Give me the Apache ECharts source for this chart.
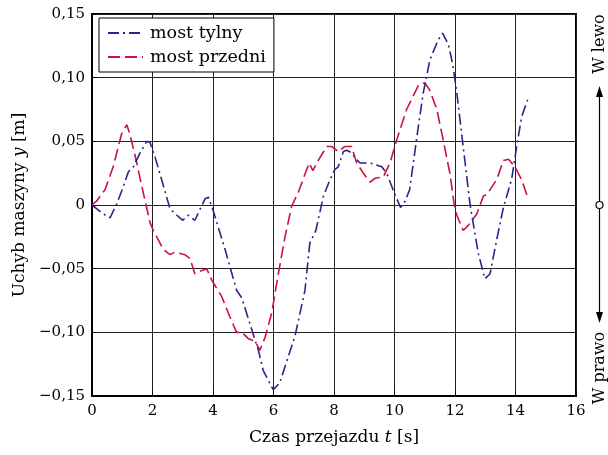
<!DOCTYPE html>
<html>
<head>
<meta charset="utf-8">
<script src="https://cdn.jsdelivr.net/npm/echarts@6/dist/echarts.min.js"></script>
<style>
html, body { margin: 0; padding: 0; background: #fff; }
#chart { width: 608px; height: 455px; }
</style>
</head>
<body>
<div id="chart"></div>
<script>
// czas [s], uchyb [m]
var tylny = [
	[0, 0], [0.37, -0.007], [0.6, -0.01], [0.82, 0.001], [1.03, 0.014], [1.2, 0.026],
	[1.37, 0.030], [1.59, 0.041], [1.81, 0.050], [1.92, 0.049], [2.08, 0.038], [2.3, 0.020],
	[2.58, -0.003], [2.85, -0.009], [3.0, -0.012], [3.18, -0.008], [3.4, -0.012], [3.74, 0.005],
	[3.85, 0.006], [4.0, -0.004], [4.4, -0.035], [4.78, -0.067], [4.95, -0.073], [5.39, -0.106],
	[5.5, -0.114], [5.66, -0.130], [5.99, -0.145], [6.2, -0.140], [6.71, -0.103], [7.04, -0.067],
	[7.2, -0.030], [7.4, -0.020], [7.65, 0.007], [7.87, 0.020], [8.03, 0.028], [8.14, 0.030],
	[8.31, 0.042], [8.42, 0.043], [8.58, 0.041], [8.73, 0.036], [8.86, 0.033], [9.19, 0.033],
	[9.58, 0.030], [9.74, 0.025], [10.02, 0.008], [10.2, -0.002], [10.35, 0.003], [10.5, 0.012],
	[10.79, 0.062], [10.95, 0.088], [11.17, 0.114], [11.45, 0.130], [11.59, 0.135], [11.78, 0.126],
	[11.92, 0.111], [12.06, 0.088], [12.27, 0.046], [12.5, 0.000], [12.77, -0.038], [12.99, -0.058],
	[13.16, -0.054], [13.38, -0.027], [13.6, -0.002], [13.87, 0.020], [14.04, 0.046], [14.2, 0.069],
	[14.42, 0.084]
]
var przedni = [
	[0, 0], [0.15, 0.003], [0.43, 0.012], [0.7, 0.030], [0.98, 0.056], [1.15, 0.063],
	[1.26, 0.055], [1.48, 0.033], [1.7, 0.009], [1.92, -0.014], [2.03, -0.020], [2.36, -0.035],
	[2.58, -0.039], [2.74, -0.037], [3.07, -0.039], [3.24, -0.042], [3.4, -0.054], [3.57, -0.052],
	[3.79, -0.050], [3.96, -0.059], [4.29, -0.072], [4.56, -0.088], [4.78, -0.100], [4.95, -0.100],
	[5.17, -0.105], [5.39, -0.107], [5.55, -0.114], [5.72, -0.104], [5.94, -0.085], [6.16, -0.054],
	[6.38, -0.025], [6.6, -0.001], [6.82, 0.010], [7.1, 0.028], [7.18, 0.033], [7.3, 0.027],
	[7.48, 0.035], [7.76, 0.046], [7.92, 0.046], [8.14, 0.042], [8.36, 0.046], [8.58, 0.046],
	[8.75, 0.033], [8.97, 0.025], [9.19, 0.018], [9.36, 0.021], [9.63, 0.022], [9.85, 0.033],
	[10.07, 0.051], [10.4, 0.075], [10.79, 0.094], [11.0, 0.096], [11.17, 0.090], [11.4, 0.075],
	[11.61, 0.051], [11.83, 0.025], [11.97, 0.001], [12.06, -0.008], [12.27, -0.020], [12.44, -0.016],
	[12.72, -0.007], [12.94, 0.007], [13.05, 0.008], [13.38, 0.020], [13.6, 0.035], [13.77, 0.036],
	[13.98, 0.030], [14.2, 0.020], [14.42, 0.005]
]
var seriesNames = ["most tylny", "most przedni"]

var FONT = "DejaVu Serif"
var chart = echarts.init(document.getElementById("chart"))

function fmtY(v){ // 0,05 / −0,05
	if(Math.abs(v) < 1e-9) return "0"
	return (v < 0 ? "\u2212" : "") + Math.abs(v).toFixed(2).replace(".", ",")
}

var option = {
	animation: false,
	textStyle: { fontFamily: FONT },
	grid: {
		left: 92, right: 32, top: 14, bottom: 59,
		show: true, borderColor: "#000", borderWidth: 2, backgroundColor: "transparent"
	},
	legend: {
		orient: "vertical",
		left: 99, top: 18,
		backgroundColor: "#fff",
		borderColor: "#000",
		borderWidth: 1,
		borderRadius: 0,
		padding: [6, 8, 6, 8],
		itemWidth: 35,
		itemHeight: 10,
		itemGap: 6,
		itemStyle: { opacity: 0 },
		textStyle: { fontFamily: FONT, fontSize: 17.5, color: "#000", padding: [0, 0, 0, 2] },
		data: seriesNames
	},
	xAxis: {
		type: "value",
		min: 0, max: 16, interval: 2,
		name: "{a|Czas przejazdu }{i|t}{a| [s]}",
		nameLocation: "middle",
		nameGap: 33,
		nameTextStyle: {
			rich: {
				a: { fontFamily: FONT, fontSize: 17, color: "#000" },
				i: { fontFamily: FONT, fontSize: 17, color: "#000", fontStyle: "italic" }
			}
		},
		axisLine: { onZero: false, lineStyle: { color: "#000", width: 2 } },
		axisTick: { inside: true, length: 5, lineStyle: { color: "#000" } },
		axisLabel: { fontFamily: FONT, fontSize: 15, color: "#000", margin: 8 },
		splitLine: { lineStyle: { color: "#222", width: 1 } }
	},
	yAxis: {
		type: "value",
		min: -0.15, max: 0.15, interval: 0.05,
		name: "{a|Uchyb maszyny }{i|y}{a| [m]}",
		nameLocation: "middle",
		nameGap: 64,
		nameTextStyle: {
			rich: {
				a: { fontFamily: FONT, fontSize: 17, color: "#000" },
				i: { fontFamily: FONT, fontSize: 17, color: "#000", fontStyle: "italic" }
			}
		},
		axisLine: { onZero: false, lineStyle: { color: "#000", width: 2 } },
		axisTick: { inside: true, length: 5, lineStyle: { color: "#000" } },
		axisLabel: { fontFamily: FONT, fontSize: 15, color: "#000", margin: 7, formatter: fmtY },
		splitLine: { lineStyle: { color: "#222", width: 1 } }
	},
	series: [
		{
			name: seriesNames[0],
			type: "line",
			data: tylny,
			showSymbol: false,
			symbol: "none",
			lineStyle: { color: "#33208c", width: 1.6, type: [11, 4, 2, 4] },
			itemStyle: { color: "#33208c" },
			z: 3
		},
		{
			name: seriesNames[1],
			type: "line",
			data: przedni,
			showSymbol: false,
			symbol: "none",
			lineStyle: { color: "#cc1242", width: 1.6, type: [12, 5] },
			itemStyle: { color: "#cc1242" },
			z: 2
		}
	],
	graphic: [ // strzalki kierunku z prawej strony
		{ type: "line", shape: { x1: 599.5, y1: 95, x2: 599.5, y2: 315 }, style: { stroke: "#000", lineWidth: 1.2 } },
		{ type: "polygon", shape: { points: [[599.5, 86], [596, 97], [603, 97]] }, style: { fill: "#000" } },
		{ type: "polygon", shape: { points: [[599.5, 323], [596, 312], [603, 312]] }, style: { fill: "#000" } },
		{ type: "circle", shape: { cx: 599.5, cy: 205, r: 3.5 }, style: { fill: "#fff", stroke: "#000", lineWidth: 1.2 } },
		{ type: "text", x: 599.5, y: 44, rotation: Math.PI / 2,
			style: { text: "W lewo", fill: "#000", font: "16px " + FONT, align: "center", verticalAlign: "middle" } },
		{ type: "text", x: 599.5, y: 368, rotation: Math.PI / 2,
			style: { text: "W prawo", fill: "#000", font: "16px " + FONT, align: "center", verticalAlign: "middle" } }
	]
}
chart.setOption(option)
</script>
</body>
</html>
